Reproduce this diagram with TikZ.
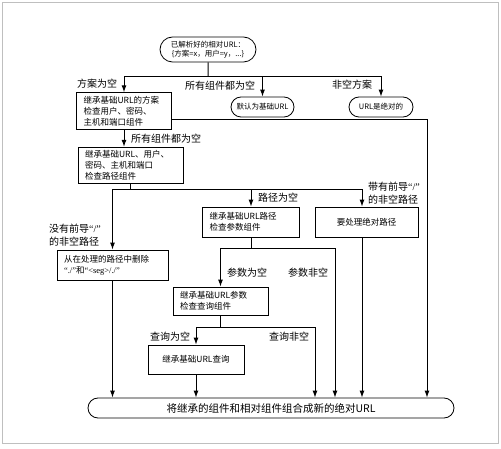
\documentclass[tikz,border=0pt]{standalone}
\usepackage{fontspec}
\setmainfont{Noto Sans CJK SC}
\newfontfamily\latinfont{Liberation Serif}
\usetikzlibrary{shapes.misc,arrows.meta}
\newcommand\boxfont{\fontsize{8.5}{11}\selectfont}
\newcommand\lblfont{\fontsize{10}{13}\selectfont}
\newcommand\pillfont{\fontsize{7.5}{9}\selectfont}
\newcommand\qt[1]{{\latinfont “#1”}}
\begin{document}
\begin{tikzpicture}[x=1pt,y=-1pt,
    stepbox/.style={rectangle,draw,line width=0.8pt,align=left,inner xsep=7pt,font=\boxfont},
    pill/.style={rounded rectangle,draw,line width=0.8pt,align=center,inner sep=1pt,minimum height=20pt,font=\pillfont},
    lbl/.style={align=left,inner sep=0pt,font=\lblfont},
    conn/.style={line width=1pt},
    arr/.style={conn,-{Latex[length=7pt,width=5pt]}}]
  \useasboundingbox (0,0) rectangle (501,449);
  \draw[black!25] (2,2) rectangle (498,443);
  % boxes
  \node[pill,minimum width=98pt,minimum height=25pt] (start) at (208,49.5) {已解析好的相对URL：\\\{方案=x，用户=y，...\}};
  \node[stepbox,text width=81pt,minimum height=34pt] (box1) at (124,111) {继承基础URL的方案\\检查用户、密码、\\主机和端口组件};
  \node[pill,minimum width=65pt] (defURL) at (262.5,107) {默认为基础URL};
  \node[pill,minimum width=66pt] (absURL) at (381,107) {URL是绝对的};
  \node[stepbox,text width=91pt,minimum height=35pt] (box2) at (130.5,165.5) {继承基础URL、用户、\\密码、主机和端口\\检查路径组件};
  \node[stepbox,text width=97pt,minimum height=30pt] (boxDel) at (112.5,265) {从在处理的路径中删除\\\qt{./}和\qt{<seg>/./}};
  \node[stepbox,text width=83pt,minimum height=30pt] (boxParam) at (251,222) {继承基础URL路径\\检查参数组件};
  \node[stepbox,align=center,text width=89pt,minimum height=30pt] (boxAbs) at (366.5,222) {要处理绝对路径};
  \node[stepbox,text width=81pt,minimum height=28pt] (boxQuery) at (220.5,301) {继承基础URL参数\\检查查询组件};
  \node[stepbox,align=center,text width=82pt,minimum height=29pt] (boxInh) at (196,359.5) {继承基础URL查询};
  \node[pill,minimum width=368pt,font=\fontsize{10.5}{12}\selectfont] (final) at (271,408) {将继承的组件和相对组件组合成新的绝对URL};
  % labels
  \node[lbl] (lblSchemeEmpty) at (97,84) {方案为空};
  \node[lbl] (lblAllEmpty) at (220,86) {所有组件都为空};
  \node[lbl] (lblScheme) at (352,85) {非空方案};
  \node[lbl] (lblAllEmpty2) at (166,139) {所有组件都为空};
  \node[lbl] (lblNoSlash) at (75,235) {没有前导\qt{/}\\的非空路径};
  \node[lbl] (lblPathEmpty) at (278,198) {路径为空};
  \node[lbl] (lblSlash) at (394,193) {带有前导\qt{/}\\的非空路径};
  \node[lbl] (lblParamEmpty) at (247,273) {参数为空};
  \node[lbl] (lblParam) at (308,273) {参数非空};
  \node[lbl] (lblQueryEmpty) at (170,337) {查询为空};
  \node[lbl] (lblQuery) at (289,337) {查询非空};
  % connectors
  \coordinate (split1) at (208,77);
  \draw[conn] (start) -- (split1);
  \draw[arr] (split1) -| (box1);
  \draw[arr] (split1) -| (defURL);
  \draw[arr] (split1) -| (absURL);
  \coordinate (right1) at (427,120);
  \draw[arr] (box1.east |- right1) -| (right1 |- final.north);
  \draw[arr] (box1) -- (box1 |- box2.north);
  \coordinate (split2) at (130.5,190);
  \draw[conn] (box2) -- (split2);
  \draw[arr] (split2) -| (boxDel);
  \draw[arr] (split2) -| (boxParam);
  \draw[arr] (split2) -| ([xshift=-4.5pt]boxAbs.north);
  \draw[arr] (boxDel) -- (boxDel |- final.north);
  \draw[arr] ([xshift=-4.5pt]boxAbs.south) coordinate (absOut) -- (absOut |- final.north);
  \coordinate (split3) at (251,249);
  \coordinate (right3) at (335,249);
  \draw[conn] (boxParam) -- (split3);
  \draw[arr] (split3) -| (boxQuery);
  \draw[arr] (split3) -| (right3 |- final.north);
  \coordinate (split4) at (220.5,327);
  \coordinate (right4) at (315,327);
  \draw[conn] (boxQuery) -- (split4);
  \draw[arr] (split4) -| (boxInh);
  \draw[arr] (split4) -| (right4 |- final.north);
  \draw[arr] (boxInh) -- (boxInh |- final.north);
\end{tikzpicture}
\end{document}
